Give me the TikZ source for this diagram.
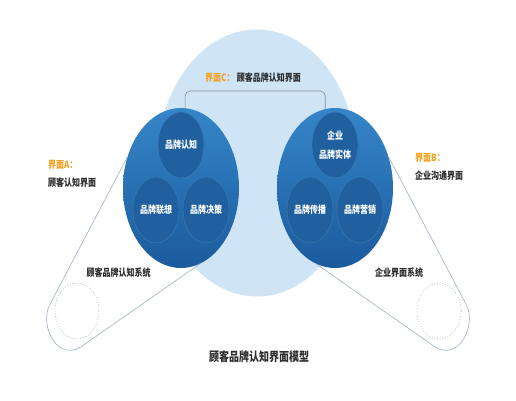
\documentclass[tikz,border=0pt]{standalone}
\usepackage{fontspec}
\newfontfamily\cjk{Noto Sans CJK SC}[FakeStretch=0.8]
\usepackage{tikz}
\usetikzlibrary{shapes.geometric}
\usetikzlibrary{positioning}
\usepackage{xcolor}
\definecolor{paleblue}{HTML}{CFE5F6}
\definecolor{bluetop}{HTML}{3585C8}
\definecolor{bluebot}{HTML}{1B5B9D}
\definecolor{innerblue}{HTML}{21609E}
\definecolor{rimblue}{HTML}{3B7EBD}
\definecolor{linegray}{HTML}{9FB3C2}
\definecolor{bargray}{HTML}{7F8E9B}
\definecolor{tagorange}{HTML}{F2A11F}
\definecolor{textgray}{HTML}{2E2E2E}

\begin{document}
\begin{tikzpicture}[x=1pt, y=-1pt,
  outerdisc/.style={ellipse, minimum width=116pt, minimum height=160pt, inner sep=0pt,
    top color=bluetop, bottom color=bluebot},
  innerdisc/.style={ellipse, minimum width=46pt, minimum height=66pt, inner sep=0pt,
    fill=innerblue, draw=rimblue, line width=0.4pt, text=white, align=center,
    font=\cjk\bfseries\fontsize{10}{19}\selectfont},
  funnel/.style={draw=linegray, line width=0.6pt},
  dotring/.style={draw=linegray, dotted, line width=0.7pt},
  bar/.style={draw=bargray, line width=0.6pt, rounded corners=5pt},
  labtext/.style={text=textgray, inner sep=1pt, font=\cjk\bfseries\fontsize{10}{12}\selectfont},
  tagtext/.style={text=tagorange, inner sep=1pt, font=\cjk\bfseries\fontsize{10}{12}\selectfont}]

  \useasboundingbox (0,0) rectangle (516,400);
  \fill[white] (0,0) rectangle (516,400);

  % Back: common area of interface C
  \node[ellipse, fill=paleblue, minimum width=200pt, minimum height=267pt, inner sep=0pt] (pale) at (257,163) {};

  % Left: customer brand cognition system
  \node[outerdisc] (lsys) at (181,188) {};
  \coordinate (la) at (49.6,305);
  \coordinate (lb) at (85,344);
  \draw[funnel] (lsys.150) -- (la) .. controls (39,325) and (58,366) .. (lb) -- (lsys.284);
  \draw[dotring] (77,311) ellipse [x radius=22, y radius=28];

  % Right: enterprise interface system
  \node[outerdisc] (rsys) at (335,188) {};
  \coordinate (ra) at (466.4,305);
  \coordinate (rb) at (431,344);
  \draw[funnel] (rsys.30) -- (ra) .. controls (477,325) and (458,366) .. (rb) -- (rsys.256);
  \draw[dotring] (439,311) ellipse [x radius=22, y radius=28];

  % Top: interface C bar
  \coordinate (cbar) at (255,91);
  \draw[bar] (lsys.87) |- (cbar) -| (rsys.97);

  % Inner discs
  \node[innerdisc] (lknow) at ([shift={(0,-43)}]lsys.center) {品牌认知};
  \node[innerdisc] (lassoc) at ([shift={(-25,22)}]lsys.center) {品牌联想};
  \node[innerdisc] (ldecide) at ([shift={(25,22)}]lsys.center) {品牌决策};
  \node[innerdisc] (rbody) at ([shift={(0,-43)}]rsys.center) {企业\\品牌实体};
  \node[innerdisc] (rspread) at ([shift={(-25,22)}]rsys.center) {品牌传播};
  \node[innerdisc] (rsell) at ([shift={(25,22)}]rsys.center) {品牌营销};

  % Labels
  \node[tagtext, anchor=west] (tagC) at (204,78) {界面C：};
  \node[labtext, right=0pt of tagC] (labC) {顾客品牌认知界面};
  \node[tagtext, anchor=west] (tagA) at (47,165) {界面A：};
  \node[labtext, below=6pt of tagA.south west, anchor=north west] (labA) {顾客认知界面};
  \node[tagtext, anchor=west] (tagB) at (414,158) {界面B：};
  \node[labtext, below=6pt of tagB.south west, anchor=north west] (labB) {企业沟通界面};
  \node[labtext] (lsystxt) at (118.5,273) {顾客品牌认知系统};
  \node[labtext] (rsystxt) at (399,273) {企业界面系统};
  \node[labtext, font=\cjk\bfseries\fontsize{12.5}{14}\selectfont] (title) at (259,357) {顾客品牌认知界面模型};
\end{tikzpicture}
\end{document}
